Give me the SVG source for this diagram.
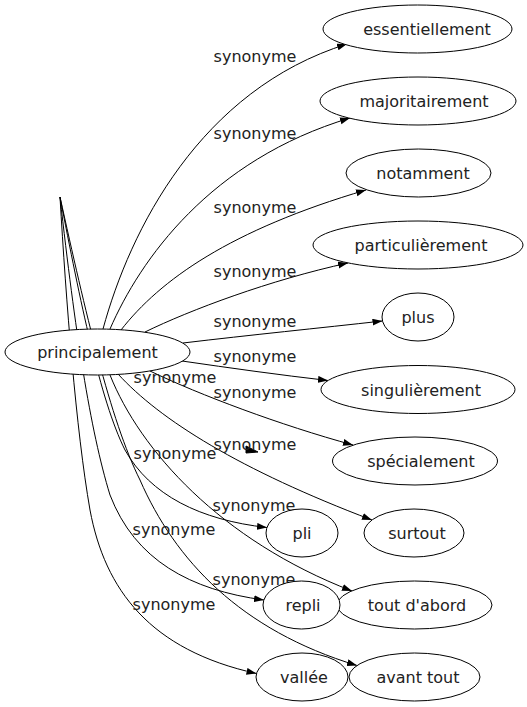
<svg xmlns="http://www.w3.org/2000/svg" width="527" height="707" viewBox="0 0 527 707">
<defs>
<style>
.node ellipse{fill:#fff;stroke:#000;stroke-width:1}
.node text{font-family:"DejaVu Sans",sans-serif;font-size:16px;fill:#222;text-anchor:middle}
.edge path{fill:none;stroke:#000;stroke-width:1}
.lbl{font-family:"DejaVu Sans",sans-serif;font-size:16px;fill:#222;text-anchor:middle}
</style>
<marker id="ah" markerUnits="userSpaceOnUse" markerWidth="11" markerHeight="8" refX="10" refY="3.5" orient="auto">
<path d="M0,0 L10,3.5 L0,7 z" fill="#000"/>
</marker>
</defs>
<rect width="527" height="707" fill="#fff"/>
<g id="edges" class="edge">
<path marker-end="url(#ah)" d="M103,329 C130,230 200,90 347,44"/>
<path marker-end="url(#ah)" d="M110,329 C140,260 210,160 350,118"/>
<path marker-end="url(#ah)" d="M121,330 C160,280 230,230 366,190"/>
<path marker-end="url(#ah)" d="M145,332 C190,310 270,280 348,263"/>
<path marker-end="url(#ah)" d="M183,343 C250,335 320,328 382.5,321"/>
<path marker-end="url(#ah)" d="M182,361 C230,368 280,375 328,380.5"/>
<path marker-end="url(#ah)" d="M150,371 C200,395 280,425 353,445"/>
<path marker-end="url(#ah)" d="M118,374 C160,420 240,470 372,520"/>
<path marker-end="url(#ah)" d="M60,197 C80,300 100,400 125,450 C150,495 200,520 267,527.5"/>
<path marker-end="url(#ah)" d="M110,375 C140,450 220,540 352,591"/>
<path marker-end="url(#ah)" d="M60,197 C75,330 90,430 110,495 C135,560 190,590 264,600"/>
<path marker-end="url(#ah)" d="M60,197 C66,300 76,430 90,510 C105,590 150,650 256.5,673.5"/>
<path marker-end="url(#ah)" d="M60,197 C85,310 110,420 140,480 C175,560 240,630 357,665.5"/>
<polygon points="246,446 258,452 246,453" fill="#000" stroke="#000"/>
<text class="lbl" x="255" y="62">synonyme</text>
<text class="lbl" x="255" y="139">synonyme</text>
<text class="lbl" x="255" y="213">synonyme</text>
<text class="lbl" x="255" y="277">synonyme</text>
<text class="lbl" x="255" y="327">synonyme</text>
<text class="lbl" x="255" y="362">synonyme</text>
<text class="lbl" x="175" y="383">synonyme</text>
<text class="lbl" x="255" y="398">synonyme</text>
<text class="lbl" x="255" y="450">synonyme</text>
<text class="lbl" x="175" y="459">synonyme</text>
<text class="lbl" x="254" y="511">synonyme</text>
<text class="lbl" x="174" y="535">synonyme</text>
<text class="lbl" x="254" y="585">synonyme</text>
<text class="lbl" x="174" y="610">synonyme</text>
</g>
<g id="principalement" class="node"><ellipse cx="97.5" cy="352" rx="92.5" ry="23"/><text x="97.5" y="358">principalement</text></g>
<g id="essentiellement" class="node"><ellipse cx="417.5" cy="29" rx="94.5" ry="24"/><text x="427" y="35">essentiellement</text></g>
<g id="majoritairement" class="node"><ellipse cx="418" cy="101" rx="98" ry="24"/><text x="424" y="107">majoritairement</text></g>
<g id="notamment" class="node"><ellipse cx="418.5" cy="173" rx="72.5" ry="24"/><text x="423" y="179">notamment</text></g>
<g id="particulierement" class="node"><ellipse cx="418" cy="245" rx="105" ry="24"/><text x="421" y="251">particulièrement</text></g>
<g id="plus" class="node"><ellipse cx="418" cy="317" rx="36" ry="24"/><text x="418" y="323">plus</text></g>
<g id="singulierement" class="node"><ellipse cx="418" cy="389.5" rx="97" ry="24"/><text x="421" y="395.5">singulièrement</text></g>
<g id="specialement" class="node"><ellipse cx="415" cy="461" rx="82.5" ry="24"/><text x="421" y="467">spécialement</text></g>
<g id="surtout" class="node"><ellipse cx="414" cy="533" rx="50" ry="24"/><text x="417" y="539">surtout</text></g>
<g id="pli" class="node"><ellipse cx="302" cy="533" rx="36" ry="24"/><text x="302" y="539">pli</text></g>
<g id="tout-dabord" class="node"><ellipse cx="414.5" cy="605" rx="77.5" ry="24"/><text x="417" y="611">tout d'abord</text></g>
<g id="repli" class="node"><ellipse cx="301.5" cy="605" rx="38.5" ry="24"/><text x="303" y="611">repli</text></g>
<g id="vallee" class="node"><ellipse cx="302" cy="677" rx="46" ry="24"/><text x="304" y="683">vallée</text></g>
<g id="avant-tout" class="node"><ellipse cx="414.5" cy="677" rx="65.5" ry="24"/><text x="418" y="683">avant tout</text></g>
</svg>
